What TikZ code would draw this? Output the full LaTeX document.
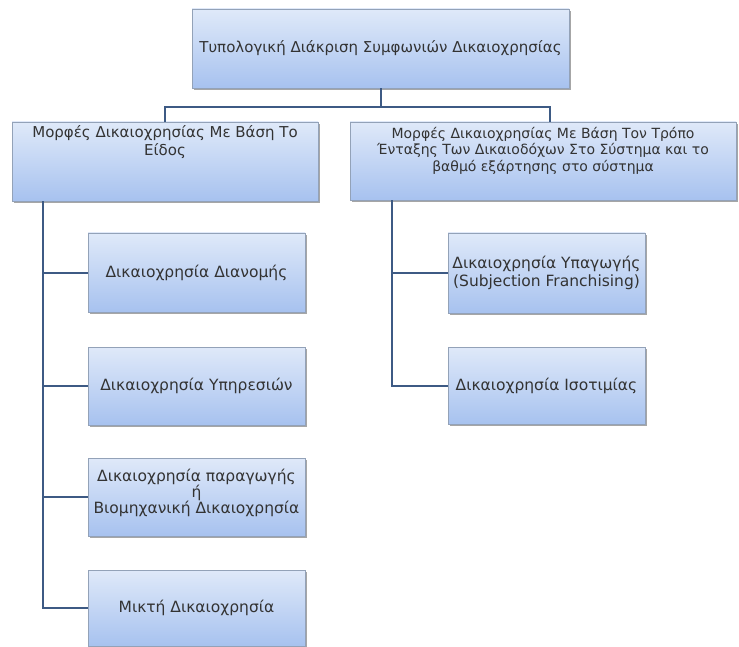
\documentclass[tikz,border=0pt]{standalone}
\usepackage{fontspec}
\setmainfont{DejaVu Sans}
\usepackage{tikz}
\usepackage{xcolor}
\usetikzlibrary{shadows}
\definecolor{boxtop}{HTML}{DFE9F9}
\definecolor{boxbot}{HTML}{A7C2EF}
\definecolor{boxline}{HTML}{93A2B8}
\definecolor{linkcol}{HTML}{3D5A84}

\begin{document}
\begin{tikzpicture}[x=1pt,y=-1pt]
			\tikzstyle{box}=[rectangle,draw=boxline,line width=.8pt,top color=boxtop,bottom color=boxbot,
				align=center,inner sep=2pt,font=\fontsize{15.5}{18}\selectfont,text=black!80,
				drop shadow={shadow xshift=1.5pt,shadow yshift=-2pt,opacity=.35,fill=black}]
			\tikzstyle{link}=[draw=linkcol,line width=2pt]
			
			\useasboundingbox (0,0) rectangle (739,647);
			
			\node [box,minimum width=377pt,minimum height=79pt,font=\fontsize{15}{18}\selectfont] (root) at (380.5,48.5)
				{Τυπολογική Διάκριση Συμφωνιών Δικαιοχρησίας};
			\node [box,minimum width=306pt,minimum height=79pt,font=\fontsize{15}{18}\selectfont,text depth=42pt] (kind) at (165,161.5)
				{Μορφές Δικαιοχρησίας Με Βάση Το\\Είδος};
			\node [box,minimum width=386pt,minimum height=78pt,font=\fontsize{14}{16.5}\selectfont,text depth=24pt] (mode) at (543,161)
				{Μορφές Δικαιοχρησίας Με Βάση Τον Τρόπο\\Ένταξης Των Δικαιοδόχων Στο Σύστημα και το\\βαθμό εξάρτησης στο σύστημα};
			
			\node [box,minimum width=217pt,minimum height=79pt] (distrib) at (196.5,272.5) {Δικαιοχρησία Διανομής};
			\node [box,minimum width=217pt,minimum height=78pt] (service) at (196.5,386) {Δικαιοχρησία Υπηρεσιών};
			\node [box,minimum width=217pt,minimum height=78pt,font=\fontsize{15.5}{16}\selectfont,text depth=12pt] (product) at (196.5,497)
				{Δικαιοχρησία παραγωγής\\ή\\Βιομηχανική Δικαιοχρησία};
			\node [box,minimum width=217pt,minimum height=76pt] (mixed) at (196.5,608) {Μικτή Δικαιοχρησία};
			
			\node [box,minimum width=197pt,minimum height=80pt] (subj) at (546.5,273)
				{Δικαιοχρησία Υπαγωγής\\(Subjection Franchising)};
			\node [box,minimum width=197pt,minimum height=77pt] (equal) at (546.5,385.5) {Δικαιοχρησία Ισοτιμίας};
			
			\coordinate (kindfoot) at ([xshift=31pt]kind.south west);
			\coordinate (modefoot) at ([xshift=42pt]mode.south west);
			
			\draw [link] (root.south) -- ++(0,19) -| (kind.north);
			\draw [link] (root.south) -- ++(0,19) -| ([xshift=7pt]mode.north);
			\draw [link] (kindfoot) |- (mixed.west);
			\foreach \n in {distrib,service,product}
				\draw [link] (kindfoot |- \n.west) -- (\n.west);
			\draw [link] (modefoot) |- (equal.west);
			\draw [link] (modefoot |- subj.west) -- (subj.west);
\end{tikzpicture}
\end{document}
